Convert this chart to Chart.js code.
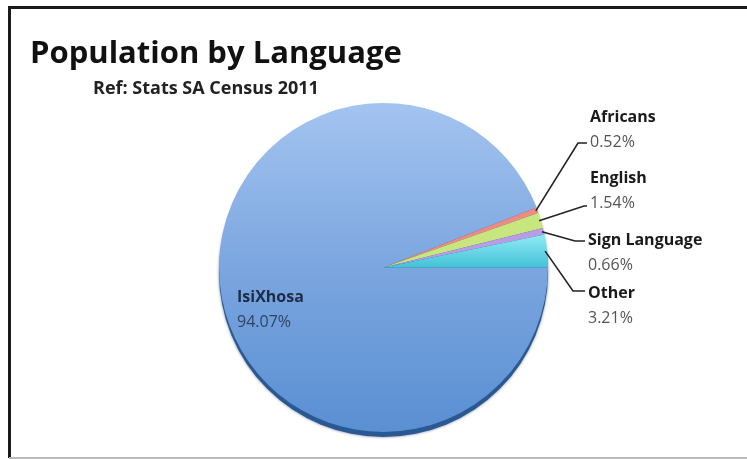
<!DOCTYPE html>
<html>
<head>
<meta charset="utf-8">
<script src="https://cdn.jsdelivr.net/npm/chart.js@4"></script>
<style>
    body { margin: 0; background: #fff; }
    #wrap { width: 747px; height: 459px; position: relative; }
</style>
</head>
<body>
<div id="wrap"><canvas id="chart" width="747" height="459"></canvas></div>
<script>
var chartTitle = 'Population by Language';
var chartSubtitle = 'Ref: Stats SA Census 2011';
var languages = ['IsiXhosa', 'Africans', 'English', 'Sign Language', 'Other'];
var shares = [94.07, 0.52, 1.54, 0.66, 3.21];
var shareLabels = ['94.07%', '0.52%', '1.54%', '0.66%', '3.21%'];

var FONT = '"Open Sans", Lato, sans-serif';

// slice fills, the big one and "Other" get a soft vertical gradient
var sliceFill = function(context) {
    var chart = context.chart;
    var area = chart.chartArea;
    var i = context.dataIndex;
    if (!area) return '#7ba6df';
    var g;
    if (i === 0) {
        g = chart.ctx.createLinearGradient(0, area.top, 0, area.bottom);
        g.addColorStop(0, '#a4c4f0');
        g.addColorStop(0.5, '#7ba6df');
        g.addColorStop(1, '#5a8fd3');
        return g;
    }
    if (i === 4) {
        g = chart.ctx.createLinearGradient(0, area.top + area.height / 2 - 30, 0, area.top + area.height / 2 + 2);
        g.addColorStop(0, '#8ae6f2');
        g.addColorStop(1, '#3fc0d6');
        return g;
    }
    return ['#7ba6df', '#f08a82', '#c8e67e', '#b89de6', '#5fd0e2'][i];
};

// frame around the picture + dark rim under the pie
var backdrop = {
    id: 'backdrop',
    beforeDraw: function(chart) {
        var ctx = chart.ctx;
        ctx.save();
        ctx.fillStyle = '#fff';
        ctx.fillRect(0, 0, chart.width, chart.height);
        ctx.strokeStyle = '#1a1a1a';
        ctx.lineWidth = 3;
        ctx.beginPath();
        ctx.moveTo(9.5, 458);
        ctx.lineTo(9.5, 7.5);
        ctx.lineTo(747, 7.5);
        ctx.stroke();
        ctx.strokeStyle = '#bbb';
        ctx.lineWidth = 2;
        ctx.beginPath();
        ctx.moveTo(9, 458);
        ctx.lineTo(747, 458);
        ctx.stroke();
        ctx.restore();
    },
    beforeDatasetsDraw: function(chart) {
        var arc = chart.getDatasetMeta(0).data[0];
        if (!arc) return;
        var p = arc.getProps(['x', 'y', 'outerRadius'], true);
        var ctx = chart.ctx;
        ctx.save();
        ctx.shadowColor = 'rgba(20,40,80,0.6)';
        ctx.shadowBlur = 3;
        ctx.fillStyle = '#2a5892';
        ctx.beginPath();
        ctx.arc(p.x, p.y + 5, p.outerRadius, 0, Math.PI * 2);
        ctx.fill();
        ctx.restore();
    }
};

// title, slice names and leader lines
var callouts = {
    id: 'callouts',
    afterDraw: function(chart, args, opts) {
        var ctx = chart.ctx;
        var arcs = chart.getDatasetMeta(0).data;
        ctx.save();
        ctx.textBaseline = 'alphabetic';
        ctx.textAlign = 'left';

        ctx.fillStyle = '#111';
        ctx.font = 'bold 31px ' + FONT;
        ctx.fillText(chartTitle, 30, 63);
        ctx.fillStyle = '#222';
        ctx.font = 'bold 18px ' + FONT;
        ctx.fillText(chartSubtitle, 93, 94);

        // label sitting inside the big slice
        var big = opts.inside;
        ctx.fillStyle = '#1d2c45';
        ctx.font = 'bold 16px ' + FONT;
        ctx.fillText(languages[0], big.x, big.y);
        ctx.fillStyle = '#2d4466';
        ctx.font = '16px ' + FONT;
        ctx.fillText(shareLabels[0], big.x, big.y + 25);

        opts.outside.forEach(function(lab, k) {
            var i = k + 1;
            var p = arcs[i].getProps(['x', 'y', 'startAngle', 'endAngle', 'outerRadius'], true);
            var mid = (p.startAngle + p.endAngle) / 2;
            var ex = p.x + Math.cos(mid) * (p.outerRadius - 2);
            var ey = p.y + Math.sin(mid) * (p.outerRadius - 2);

            ctx.strokeStyle = '#222';
            ctx.lineWidth = 1.6;
            ctx.beginPath();
            ctx.moveTo(ex, ey);
            ctx.lineTo(lab.elbowX, lab.lineY);
            ctx.lineTo(lab.x - 3, lab.lineY);
            ctx.stroke();

            ctx.fillStyle = '#1a1a1a';
            ctx.font = 'bold 16px ' + FONT;
            ctx.fillText(languages[i], lab.x, lab.y);
            ctx.fillStyle = '#555';
            ctx.font = '16px ' + FONT;
            ctx.fillText(shareLabels[i], lab.x, lab.y + 25);
        });
        ctx.restore();
    }
};

var ctx = document.getElementById('chart').getContext('2d');
var myChart = new Chart(ctx, {
    type: 'pie',
    data: {
        labels: languages,
        datasets: [{
            data: shares,
            backgroundColor: sliceFill,
            borderWidth: 0
        }]
    },
    options: {
        responsive: false,
        animation: false,
        rotation: 90,
        layout: { padding: { left: 218, right: 198, top: 103, bottom: 27 } },
        plugins: {
            legend: { display: false },
            tooltip: { enabled: false },
            callouts: {
                inside: { x: 237, y: 302 },
                outside: [
                    { x: 590, y: 122, elbowX: 578, lineY: 143 },
                    { x: 590, y: 183, elbowX: 584, lineY: 206 },
                    { x: 588, y: 245, elbowX: 575, lineY: 241 },
                    { x: 588, y: 298, elbowX: 573, lineY: 291 }
                ]
            }
        }
    },
    plugins: [backdrop, callouts]
});
</script>
</body>
</html>
